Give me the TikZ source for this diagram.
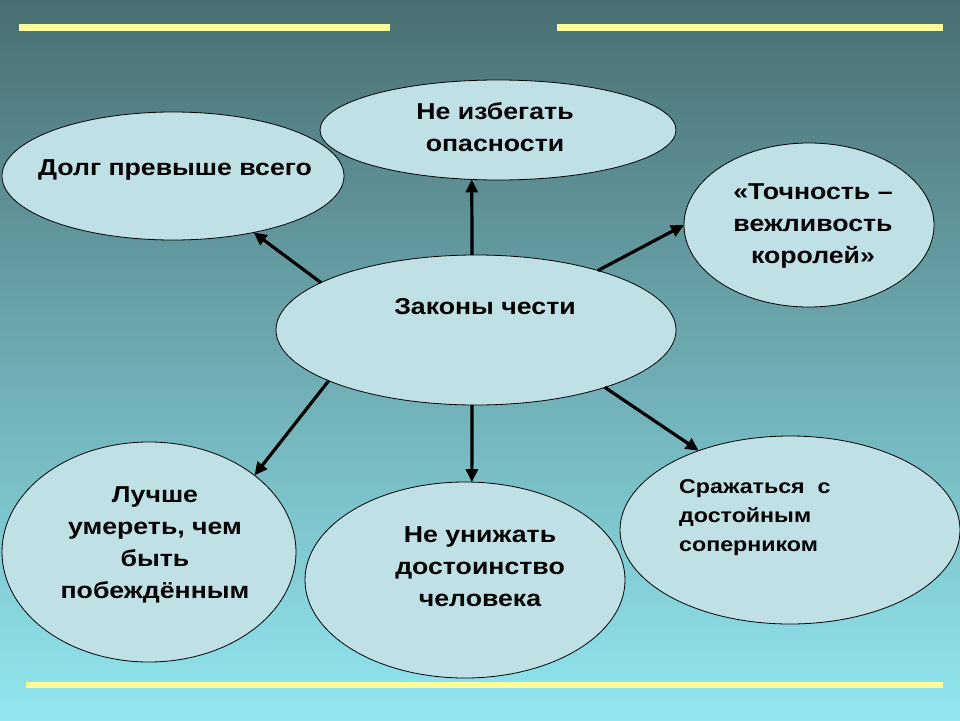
\documentclass[tikz,border=0pt]{standalone}
\usepackage{fontspec}
\setmainfont{Liberation Sans}
\newfontfamily\widesans[FakeStretch=1.16]{Liberation Sans}
\usetikzlibrary{shapes.geometric,arrows.meta}
\definecolor{bgtop}{RGB}{73,111,114}
\definecolor{bgbot}{RGB}{146,231,240}
\definecolor{ovalfill}{RGB}{191,225,229}
\definecolor{barcol}{RGB}{255,255,153}
\tikzset{
  oval/.style={ellipse,draw=black,line width=0.8pt,fill=ovalfill,inner sep=0pt,outer sep=0pt},
  lbl/.style={font=\widesans\bfseries\fontsize{23}{32}\selectfont,align=center,text=black,inner sep=0pt},
  lblsmall/.style={font=\widesans\bfseries\fontsize{20}{29}\selectfont,align=left,text=black,inner sep=0pt},
  arr/.style={line width=3.2pt,-{Triangle[length=13pt,width=12pt]}},
  bar/.style={fill=barcol,draw=none}
}
\begin{document}
\begin{tikzpicture}[x=1pt,y=-1pt]
\useasboundingbox (0,0) rectangle (960,720);
\shade[top color=bgtop,bottom color=bgbot] (0,0) rectangle (960,720);
% bars
\fill[bar] (19,24) rectangle (390,31);
\fill[bar] (557,24) rectangle (943,31);
\fill[bar] (26,682) rectangle (943,688);
% ovals
\node[oval,minimum width=356pt,minimum height=100pt] (avoid) at (498,130) {};
\node[oval,minimum width=342pt,minimum height=128pt] (duty) at (173,176) {};
\node[oval,minimum width=250pt,minimum height=164pt] (time) at (809,225) {};
\node[oval,minimum width=400pt,minimum height=150pt] (laws) at (476,330) {};
\node[oval,minimum width=294pt,minimum height=220pt] (die) at (149,552) {};
\node[oval,minimum width=320pt,minimum height=196pt] (humil) at (465,580) {};
\node[oval,minimum width=340pt,minimum height=188pt] (fight) at (790,530) {};
% texts
\node[lbl] (avoidt) at (495,127) {Не избегать\\опасности};
\node[lbl] (dutyt) at (175,170) {Долг превыше всего};
\node[lbl] (timet) at (813,226) {«Точность –\\вежливость\\королей»};
\node[lbl] (lawst) at (485,307) {Законы чести};
\node[lbl] (diet) at (155,545) {Лучше\\умереть, чем\\быть\\побеждённым};
\node[lbl] (humilt) at (480,567) {Не унижать\\достоинство\\человека};
\node[lblsmall,anchor=west] (fightt) at (679,518) {Сражаться\ \ с\\достойным\\соперником};
% arrows
\draw[arr] (laws.93) -- (avoid.242.5);
\draw[arr] (laws.163.9) -- (duty.325.2);
\draw[arr] (laws.26.4) -- (time.180);
\draw[arr] (laws.267) -- (humil.86);
\draw[arr] (laws.199.7) -- (die.36);
\draw[arr] (laws.336.5) -- (fight.139);
\end{tikzpicture}
\end{document}
